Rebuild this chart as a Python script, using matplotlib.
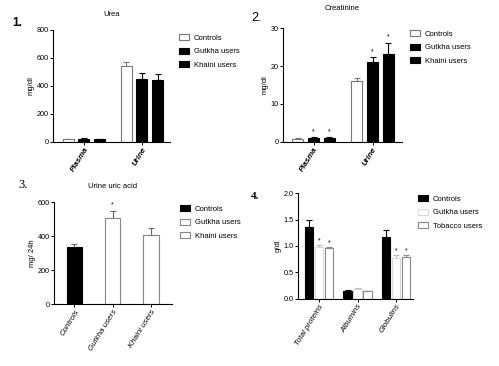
import matplotlib
matplotlib.use('Agg')
import matplotlib.pyplot as plt
import matplotlib.patches as mpatches
import numpy as np

plt.rcParams['font.family'] = ['Liberation Sans', 'DejaVu Sans']

# Panel 1: Urea (mg/dl)
urea_groups = ['Plasma', 'Urine']
urea_controls = [17, 543]
urea_controls_err = [3, 24]
urea_gutkha = [20, 450]
urea_gutkha_err = [3, 43]
urea_khaini = [17, 441]
urea_khaini_err = [3, 45]

# Panel 2: Creatinine (mg/dl)
creat_groups = ['Plasma', 'Urine']
creat_controls = [0.8, 16.0]
creat_controls_err = [0.1, 0.8]
creat_gutkha = [1.0, 21.2]
creat_gutkha_err = [0.15, 1.1]
creat_khaini = [1.0, 23.2]
creat_khaini_err = [0.15, 2.9]

# Panel 3: Urine uric acid (mg/24h)
uric_groups = ['Controls', 'Gutkha users', 'Khaini users']
uric_values = [335, 506, 406]
uric_err = [18, 43, 45]

# Panel 4: proteins (g/dl)
prot_groups = ['Total proteins', 'Albumins', 'Globulins']
prot_controls = [1.355, 0.155, 1.18]
prot_controls_err = [0.13, 0.005, 0.12]
prot_gutkha = [0.98, 0.19, 0.78]
prot_gutkha_err = [0.03, 0.01, 0.04]
prot_tobacco = [0.956, 0.14, 0.80]
prot_tobacco_err = [0.02, 0.01, 0.03]

W, H = 499, 366
fig = plt.figure(figsize=(W / 100, H / 100), dpi=100)


def px_axes(x0, x1, y_top, y_bottom):
    return fig.add_axes([x0 / W, 1 - y_bottom / H, (x1 - x0) / W, (y_bottom - y_top) / H])


def style_axes(ax):
    for s in ['top', 'right']:
        ax.spines[s].set_visible(False)
    for s in ['left', 'bottom']:
        ax.spines[s].set_linewidth(0.8)
    ax.tick_params(axis='both', length=2, width=0.7, labelsize=5.2, pad=1)


def draw_bars(ax, x, vals, errs, fc, ec, width):
    ax.bar(x, vals, width=width, color=fc, edgecolor=ec, linewidth=0.8, zorder=2)
    ax.errorbar(x, vals, yerr=[np.zeros(len(vals)), errs], fmt='none',
                ecolor=ec if ec != '#d8d8d8' else '#bbbbbb', elinewidth=0.8,
                capsize=2, capthick=0.8, zorder=1)


def stars(ax, x, vals, errs, idx, off):
    for i in idx:
        ax.text(x[i], vals[i] + errs[i] + off, '*', ha='center', va='bottom', fontsize=5)


def legend(ax, labels, fcs, ecs, x_px, y_px):
    handles = [mpatches.Patch(facecolor=f, edgecolor=e, linewidth=0.8) for f, e in zip(fcs, ecs)]
    ax.legend(handles, labels, loc='upper left', bbox_to_anchor=(x_px / W, 1 - y_px / H),
              bbox_transform=fig.transFigure, frameon=False, fontsize=5.5,
              handlelength=1.3, handleheight=0.9, handletextpad=0.6, labelspacing=0.75,
              borderpad=0, borderaxespad=0)


def xlabels(ax, labels, bold):
    ax.set_xticklabels(labels, rotation=58, ha='right', rotation_mode='anchor',
                       style='italic', fontweight='bold' if bold else 'normal', fontsize=5.7)


# ---- Panel 1 ----
ax1 = px_axes(53, 170, 29.7, 141.7)
xg = np.arange(len(urea_groups))
d, bw = 0.27, 0.19
draw_bars(ax1, xg - d, urea_controls, urea_controls_err, 'white', '#777777', bw)
draw_bars(ax1, xg, urea_gutkha, urea_gutkha_err, 'black', 'black', bw)
draw_bars(ax1, xg + d, urea_khaini, urea_khaini_err, 'black', 'black', bw)
ax1.set_ylim(0, 800)
ax1.set_yticks([0, 200, 400, 600, 800])
ax1.set_xlim(-0.534, 1.483)
style_axes(ax1)
ax1.set_xticks(xg)
xlabels(ax1, urea_groups, True)
ax1.set_ylabel('mg/dl', fontsize=5.5, labelpad=1.5)
ax1.set_title('Urea', fontsize=5.5, pad=10)
legend(ax1, ['Controls', 'Gutkha users', 'Khaini users'],
       ['white', 'black', 'black'], ['#777777', 'black', 'black'], 179, 34)
fig.text(12 / W, 1 - 23 / H, '1.', fontsize=8.5, fontweight='bold', va='center')

# ---- Panel 2 ----
ax2 = px_axes(283, 402, 28.3, 141.7)
xg = np.arange(len(creat_groups))
d, bw = 0.27, 0.19
draw_bars(ax2, xg - d, creat_controls, creat_controls_err, 'white', '#777777', bw)
draw_bars(ax2, xg, creat_gutkha, creat_gutkha_err, 'black', 'black', bw)
draw_bars(ax2, xg + d, creat_khaini, creat_khaini_err, 'black', 'black', bw)
stars(ax2, xg, creat_gutkha, creat_gutkha_err, [0, 1], 0.6)
stars(ax2, xg + d, creat_khaini, creat_khaini_err, [0, 1], 0.6)
ax2.set_ylim(0, 30)
ax2.set_yticks([0, 10, 20, 30])
ax2.set_xlim(-0.517, 1.5)
style_axes(ax2)
ax2.set_xticks(xg)
xlabels(ax2, creat_groups, True)
ax2.set_ylabel('mg/dl', fontsize=5.5, labelpad=1.5)
ax2.set_title('Creatinine', fontsize=5.5, pad=13)
legend(ax2, ['Controls', 'Gutkha users', 'Khaini users'],
       ['white', 'black', 'black'], ['#777777', 'black', 'black'], 410, 30)
fig.text(251 / W, 1 - 18 / H, '2.', fontsize=9, va='center')

# ---- Panel 3 ----
ax3 = px_axes(54, 172, 202.3, 304.3)
xg = np.arange(len(uric_groups))
ax3.bar(xg, uric_values, width=0.4, color=['black', 'white', 'white'],
        edgecolor=['black', '#888888', '#888888'], linewidth=0.8, zorder=2)
ax3.errorbar(xg, uric_values, yerr=[np.zeros(3), uric_err], fmt='none',
             ecolor='#666666', elinewidth=0.8, capsize=2.5, capthick=0.8, zorder=1)
stars(ax3, xg, uric_values, uric_err, [1], 15)
ax3.set_ylim(0, 600)
ax3.set_yticks([0, 200, 400, 600])
ax3.set_xlim(-0.535, 2.55)
style_axes(ax3)
ax3.set_xticks(xg)
xlabels(ax3, uric_groups, False)
ax3.set_ylabel('mg/ 24h', fontsize=5.5, labelpad=1.5)
ax3.set_title('Urine uric acid', fontsize=5.5, pad=10)
legend(ax3, ['Controls', 'Gutkha users', 'Khaini users'],
       ['black', 'white', 'white'], ['black', '#888888', '#888888'], 180, 205)
fig.text(18 / W, 1 - 185 / H, '3.', fontsize=9, family='Liberation Serif', va='center')

# ---- Panel 4 ----
ax4 = px_axes(298, 413, 193.3, 298.7)
xg = np.arange(len(prot_groups))
d, bw = 0.255, 0.22
draw_bars(ax4, xg - d, prot_controls, prot_controls_err, 'black', 'black', bw)
draw_bars(ax4, xg, prot_gutkha, prot_gutkha_err, 'white', '#d8d8d8', bw)
draw_bars(ax4, xg + d, prot_tobacco, prot_tobacco_err, 'white', '#888888', bw)
stars(ax4, xg, prot_gutkha, prot_gutkha_err, [0, 2], 0.02)
stars(ax4, xg + d, prot_tobacco, prot_tobacco_err, [0, 2], 0.02)
ax4.set_ylim(0, 2.0)
ax4.set_yticks([0.0, 0.5, 1.0, 1.5, 2.0])
ax4.set_yticklabels(['0.0', '0.5', '1.0', '1.5', '2.0'])
ax4.set_xlim(-0.545, 2.44)
style_axes(ax4)
ax4.set_xticks(xg)
xlabels(ax4, prot_groups, False)
ax4.set_ylabel('g/dl', fontsize=5.5, labelpad=1.5)
legend(ax4, ['Controls', 'Gutkha users', 'Tobacco users'],
       ['black', 'white', 'white'], ['black', '#d8d8d8', '#888888'], 418, 195)
fig.text(251 / W, 1 - 196 / H, '4.', fontsize=8, fontweight='bold',
         family='Liberation Serif', va='center')

fig.savefig('out.png', dpi=100)
